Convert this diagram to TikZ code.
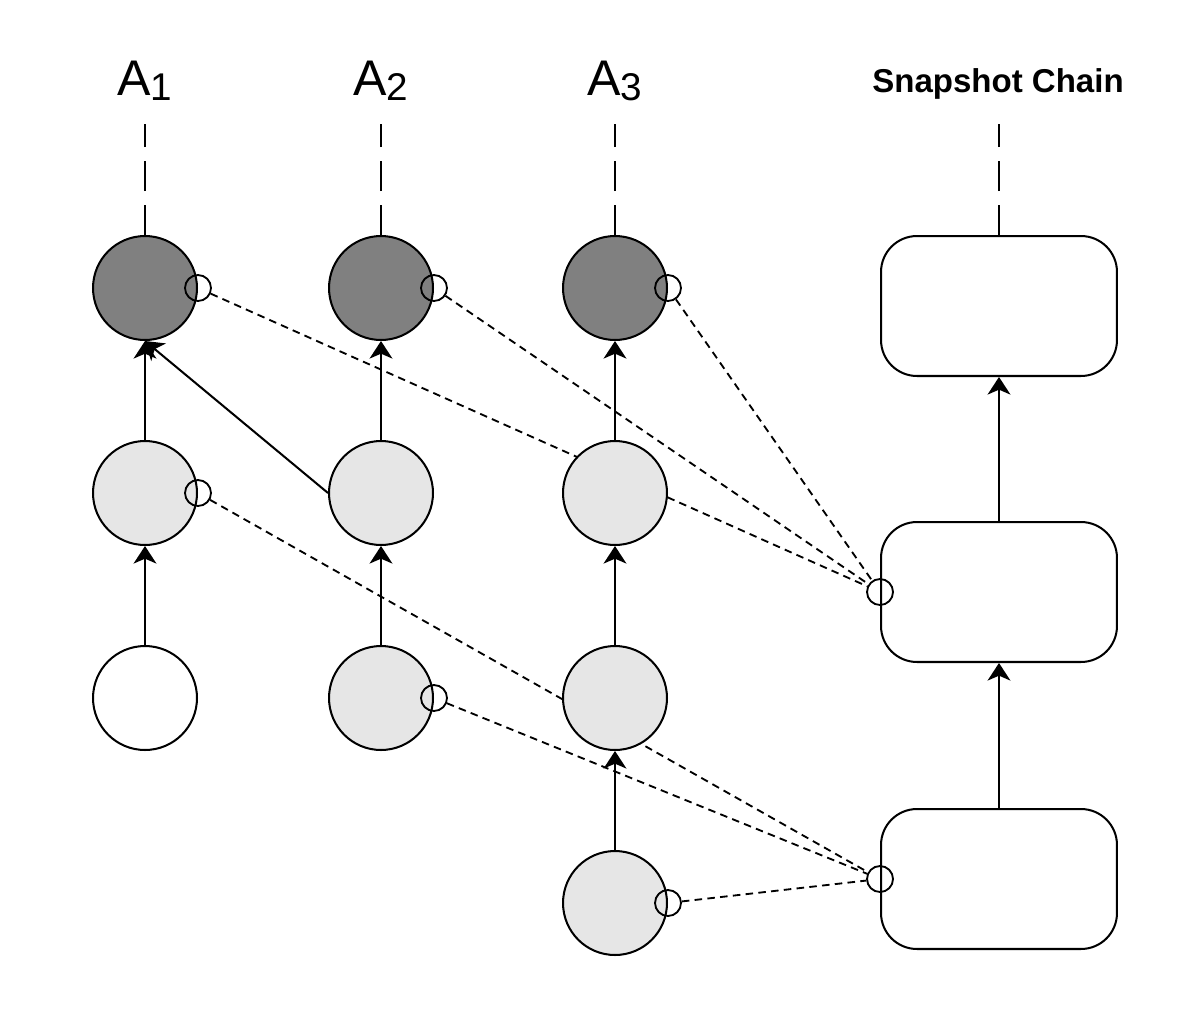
\documentclass[tikz,border=0pt]{standalone}
\usepackage{fontspec}
\setmainfont{Liberation Sans}
\usepackage{xcolor}
\usepackage{tikz}
\usetikzlibrary{
  positioning,
  arrows.meta,
  backgrounds
}
\definecolor{statedark}{HTML}{808080}
\definecolor{statelight}{HTML}{E6E6E6}
\tikzset{
  >=Stealth,
  flowarrow/.style={-{Stealth[length=10pt,width=13pt,inset=2.8pt]},line width=1.15pt},
  state/.style={circle,draw,line width=1.15pt,minimum size=2.08cm,inner sep=0pt},
  port/.style={circle,draw,line width=1.05pt,minimum size=0.52cm,inner sep=0pt},
  snapbox/.style={rectangle,draw,rounded corners=0.72cm,line width=1.15pt,minimum width=4.72cm,minimum height=2.8cm},
  lifeline/.style={line width=1.15pt,dash pattern=on 17pt off 8pt},
  copyref/.style={line width=1.05pt,dash pattern=on 4.3pt off 3pt},
  agent/.style={anchor=base,inner sep=0pt,font=\fontsize{28.5}{30}\selectfont}
}
\newcommand{\agentname}[1]{A\raisebox{-3.4pt}{\fontsize{22}{24}\selectfont #1}}

\begin{document}
\begin{tikzpicture}[x=0.02cm,y=-0.02cm]
    \useasboundingbox (0,0) rectangle (1194,1022);
    \foreach \x/\id in {145/1,381/2,615/3}
        \node[agent] (t\id) at (\x,95) {\agentname{\id}};
    \node[anchor=base,inner sep=0pt,font=\bfseries\fontsize{18.8}{20}\selectfont] (ts) at (998,92) {Snapshot Chain};

    % agent columns
    \node[state,fill=statedark] (a1t) at (145,288) {};
    \node[state,fill=statelight] (a1m) at (145,493) {};
    \node[state,fill=white] (a1b) at (145,698) {};
    \node[state,fill=statedark] (a2t) at (381,288) {};
    \node[state,fill=statelight] (a2m) at (381,493) {};
    \node[state,fill=statelight] (a2b) at (381,698) {};
    \node[state,fill=statedark] (a3t) at (615,288) {};
    \node[state,fill=statelight] (a3m) at (615,493) {};
    \node[state,fill=statelight] (a3b) at (615,698) {};
    \node[state,fill=statelight] (a3x) at (615,903) {};

    % snapshot chain
    \node[snapbox] (s1) at (999,306) {};
    \node[snapbox] (s2) at (999,592) {};
    \node[snapbox] (s3) at (999,879) {};

    % ports
    \foreach \n in {a1t,a2t,a3t,a1m,a2b,a3x}
        \node[port] (p\n) at (\n.east) {};
    \node[port] (q2) at (s2.west) {};
    \node[port] (q3) at (s3.west) {};

    \foreach \n in {a1t,a2t,a3t,s1}
        \draw[lifeline] (\n.north) -- ++(0,-111);

    \begin{scope}[on background layer]
        \foreach \n in {a1t,a2t,a3t}
            \draw[copyref] (p\n) -- (q2);
        \foreach \n in {a1m,a2b,a3x}
            \draw[copyref] (p\n) -- (q3);
    \end{scope}

    \draw[flowarrow] (a1b) -- (a1m);
    \draw[flowarrow] (a1m) -- (a1t);
    \draw[flowarrow] (a2m.west) -- (a1t.south);
    \draw[flowarrow] (a2b) -- (a2m);
    \draw[flowarrow] (a2m) -- (a2t);
    \draw[flowarrow] (a3x) -- (a3b);
    \draw[flowarrow] (a3b) -- (a3m);
    \draw[flowarrow] (a3m) -- (a3t);
    \draw[flowarrow] (s3) -- (s2);
    \draw[flowarrow] (s2) -- (s1);
\end{tikzpicture}
\end{document}
